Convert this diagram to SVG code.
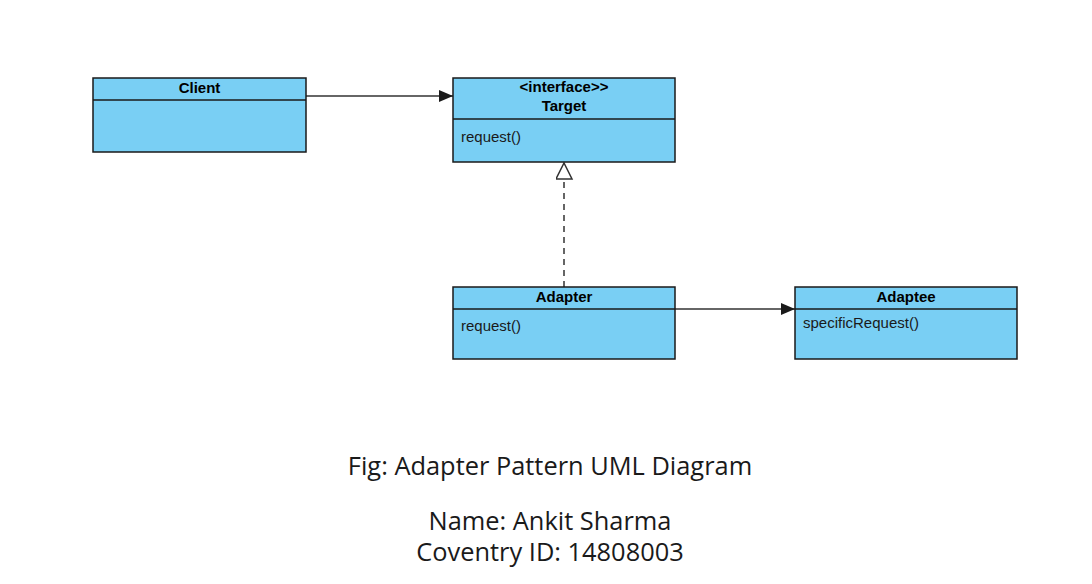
<svg xmlns="http://www.w3.org/2000/svg" width="1092" height="584" viewBox="0 0 1092 584">
<style>
.box{fill:#79cff4;stroke:#1a1a1a;stroke-width:1.5}
.div{stroke:#1a1a1a;stroke-width:1.5}
.hd{font-family:"Liberation Sans",Arial,sans-serif;font-size:15px;font-weight:bold;fill:#000;text-anchor:middle}
.op{font-family:"Liberation Sans",Arial,sans-serif;font-size:15px;fill:#1a1a1a}
.cap{font-family:"Open Sans",sans-serif;font-size:25.4px;fill:#1a1a1a;text-anchor:middle}
.conn{stroke:#333;stroke-width:1.5;fill:none}
</style>
<defs>
<marker id="filled" markerWidth="14" markerHeight="12" refX="14" refY="6" orient="auto" markerUnits="userSpaceOnUse">
<path d="M0,0 L14,6 L0,12 Z" fill="#1a1a1a"/>
</marker>
<marker id="hollow" markerWidth="18" markerHeight="18" refX="17" refY="8" orient="auto" markerUnits="userSpaceOnUse">
<path d="M1,0 L17,8 L1,16 Z" fill="#fff" stroke="#333" stroke-width="1.5"/>
</marker>
</defs>
<rect width="1092" height="584" fill="#fff"/>
<g id="connectors">
<line class="conn" x1="306" y1="96" x2="453" y2="96" marker-end="url(#filled)"/>
<line class="conn" x1="564" y1="287" x2="564" y2="163" stroke-dasharray="6,5" marker-end="url(#hollow)"/>
<line class="conn" x1="675" y1="309" x2="795" y2="309" marker-end="url(#filled)"/>
</g>
<g id="client">
<rect class="box" x="93" y="78" width="213" height="74"/>
<line class="div" x1="93" y1="100" x2="306" y2="100"/>
<text class="hd" x="199.5" y="93">Client</text>
</g>
<g id="target">
<rect class="box" x="453" y="78" width="222" height="84"/>
<line class="div" x1="453" y1="119" x2="675" y2="119"/>
<text class="hd" x="564" y="92">&lt;interface&gt;&gt;</text>
<text class="hd" x="564" y="111">Target</text>
<text class="op" x="461" y="142">request()</text>
</g>
<g id="adapter">
<rect class="box" x="453" y="287" width="222" height="72"/>
<line class="div" x1="453" y1="309" x2="675" y2="309"/>
<text class="hd" x="564" y="302">Adapter</text>
<text class="op" x="461" y="331">request()</text>
</g>
<g id="adaptee">
<rect class="box" x="795" y="287" width="222" height="72"/>
<line class="div" x1="795" y1="309" x2="1017" y2="309"/>
<text class="hd" x="906" y="302">Adaptee</text>
<text class="op" x="803" y="328">specificRequest()</text>
</g>
<g id="caption">
<text class="cap" x="550" y="475">Fig: Adapter Pattern UML Diagram</text>
<text class="cap" x="550" y="530">Name: Ankit Sharma</text>
<text class="cap" x="550" y="561">Coventry ID: 14808003</text>
</g>
</svg>
